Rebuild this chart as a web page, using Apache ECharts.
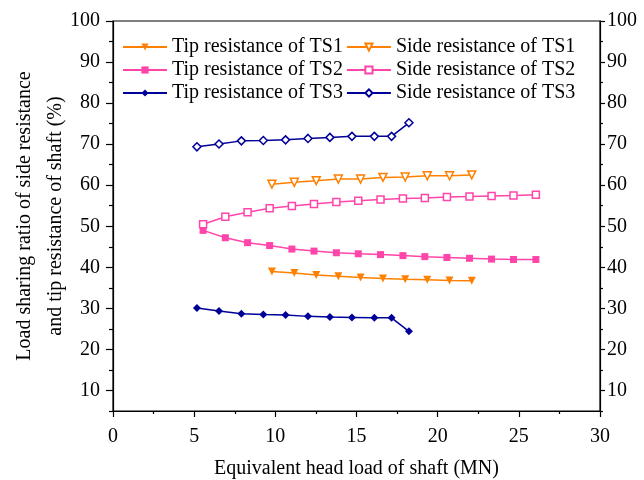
<!DOCTYPE html>
<html>
<head>
<meta charset="utf-8">
<script src="https://cdn.jsdelivr.net/npm/echarts@6/dist/echarts.min.js"></script>
<style>
  html, body { margin: 0; padding: 0; background: #fff; }
  #chart { width: 644px; height: 480px; }
</style>
</head>
<body>
<div id="chart"></div>
<script>
// load values (MN)
var loadTS1 = [9.79, 11.17, 12.52, 13.88, 15.25, 16.63, 18.0, 19.36, 20.73, 22.1];
var loadTS2 = [5.55, 6.92, 8.29, 9.65, 11.02, 12.38, 13.76, 15.11, 16.48, 17.86, 19.21, 20.57, 21.96, 23.32, 24.67, 26.05];
var loadTS3 = [5.17, 6.53, 7.91, 9.26, 10.63, 12.01, 13.36, 14.72, 16.1, 17.16, 18.23];

// sharing ratio (%)
var tipTS1 = [39.0, 38.6, 38.1, 37.8, 37.5, 37.25, 37.1, 37.0, 36.8, 36.75];
var sideTS1 = [60.25, 60.7, 61.1, 61.5, 61.5, 61.9, 62.0, 62.3, 62.3, 62.5];
var tipTS2 = [49.0, 47.2, 46.0, 45.3, 44.45, 43.95, 43.55, 43.3, 43.1, 42.85, 42.6, 42.4, 42.2, 42.0, 41.9, 41.9];
var sideTS2 = [50.5, 52.3, 53.4, 54.4, 54.95, 55.45, 55.9, 56.2, 56.5, 56.75, 56.9, 57.15, 57.25, 57.4, 57.5, 57.65];
var tipTS3 = [30.1, 29.35, 28.7, 28.5, 28.4, 28.05, 27.9, 27.8, 27.7, 27.7, 24.4];
var sideTS3 = [69.35, 70.05, 70.8, 70.9, 71.05, 71.4, 71.65, 71.9, 71.9, 71.9, 75.2];

var majorTicks = [10, 20, 30, 40, 50, 60, 70, 80, 90, 100];
var minorTicks = [5, 15, 25, 35, 45, 55, 65, 75, 85, 95];

var font = "Liberation Serif";
var orange = "#FF8000";
var pink = "#FF44AA";
var navy = "#000099";

function pairs(xs, ys) {
  var out = [];
  for (let i = 0; i < xs.length; i++) {
    out.push([xs[i], ys[i]]);
  }
  return out;
}

function makeSeries(name, xs, ys, color, symbol, size, hollow, rotate) {
  return {
    name: name,
    type: "line",
    data: pairs(xs, ys),
    symbol: symbol,
    symbolSize: size,
    symbolRotate: rotate || 0,
    showAllSymbol: true,
    lineStyle: { color: color, width: 1.5 },
    itemStyle: hollow
      ? { color: "#fff", borderColor: color, borderWidth: 1.5 }
      : { color: color, borderColor: color, borderWidth: 0 },
    emphasis: { disabled: true },
    z: 3
  };
}

function yAxisFor(pos, ticks, len, withLabels, margin) {
  return {
    type: "value",
    position: pos,
    min: 5,
    max: 100,
    axisLine: { show: withLabels, lineStyle: { color: "#000", width: 1.2 } },
    axisTick: {
      show: true,
      inside: false,
      length: len,
      customValues: ticks,
      lineStyle: { color: "#000", width: 1.2 }
    },
    axisLabel: {
      show: withLabels,
      customValues: majorTicks,
      margin: margin,
      color: "#000",
      fontFamily: font,
      fontSize: 20
    },
    splitLine: { show: false }
  };
}

var leftAxis = yAxisFor("left", majorTicks, 7, true, 13);
leftAxis.name = "Load sharing ratio of side resistance\nand tip resistance of shaft (%)";
leftAxis.nameLocation = "middle";
leftAxis.nameRotate = 90;
leftAxis.nameGap = 42;
leftAxis.nameMoveOverlap = false;
leftAxis.nameTextStyle = { color: "#000", fontFamily: font, fontSize: 20, lineHeight: 31 };

var chart = echarts.init(document.getElementById("chart"));

var option = {
  backgroundColor: "#fff",
  animation: false,
  grid: {
    left: 113,
    right: 44,
    top: 21,
    bottom: 69,
    containLabel: false,
    outerBoundsMode: "none",
    show: true,
    borderColor: "#000",
    borderWidth: 1.2,
    backgroundColor: "transparent"
  },
  legend: {
    left: 122,
    top: 37,
    padding: 0,
    width: 480,
    itemWidth: 44,
    itemHeight: 9,
    itemGap: 3,
    textStyle: { color: "#000", fontFamily: font, fontSize: 20, width: 183 },
    data: [
      "Tip resistance of TS1", "Side resistance of TS1",
      "Tip resistance of TS2", "Side resistance of TS2",
      "Tip resistance of TS3", "Side resistance of TS3"
    ]
  },
  xAxis: {
    type: "value",
    min: 0,
    max: 30,
    interval: 5,
    name: "Equivalent head load of shaft (MN)",
    nameLocation: "middle",
    nameGap: 48,
    nameMoveOverlap: false,
    nameTextStyle: { color: "#000", fontFamily: font, fontSize: 20 },
    axisLine: { onZero: false, lineStyle: { color: "#000", width: 1.2 } },
    axisTick: { inside: false, length: 6, lineStyle: { color: "#000", width: 1.2 } },
    minorTick: { show: true, splitNumber: 2, length: 3, lineStyle: { color: "#000", width: 1.2 } },
    axisLabel: { color: "#000", fontFamily: font, fontSize: 20, margin: 16 },
    splitLine: { show: false },
    minorSplitLine: { show: false }
  },
  yAxis: [
    leftAxis,
    yAxisFor("right", majorTicks, 5, true, 7),
    yAxisFor("left", minorTicks, 4, false, 8),
    yAxisFor("right", minorTicks, 3, false, 8)
  ],
  series: [
    makeSeries("Tip resistance of TS1", loadTS1, tipTS1, orange, "triangle", 8, false, 180),
    makeSeries("Side resistance of TS1", loadTS1, sideTS1, orange, "triangle", 8, true, 180),
    makeSeries("Tip resistance of TS2", loadTS2, tipTS2, pink, "rect", 7, false),
    makeSeries("Side resistance of TS2", loadTS2, sideTS2, pink, "rect", 7, true),
    makeSeries("Tip resistance of TS3", loadTS3, tipTS3, navy, "diamond", 8, false),
    makeSeries("Side resistance of TS3", loadTS3, sideTS3, navy, "diamond", 8, true)
  ]
};

chart.setOption(option);
</script>
</body>
</html>
